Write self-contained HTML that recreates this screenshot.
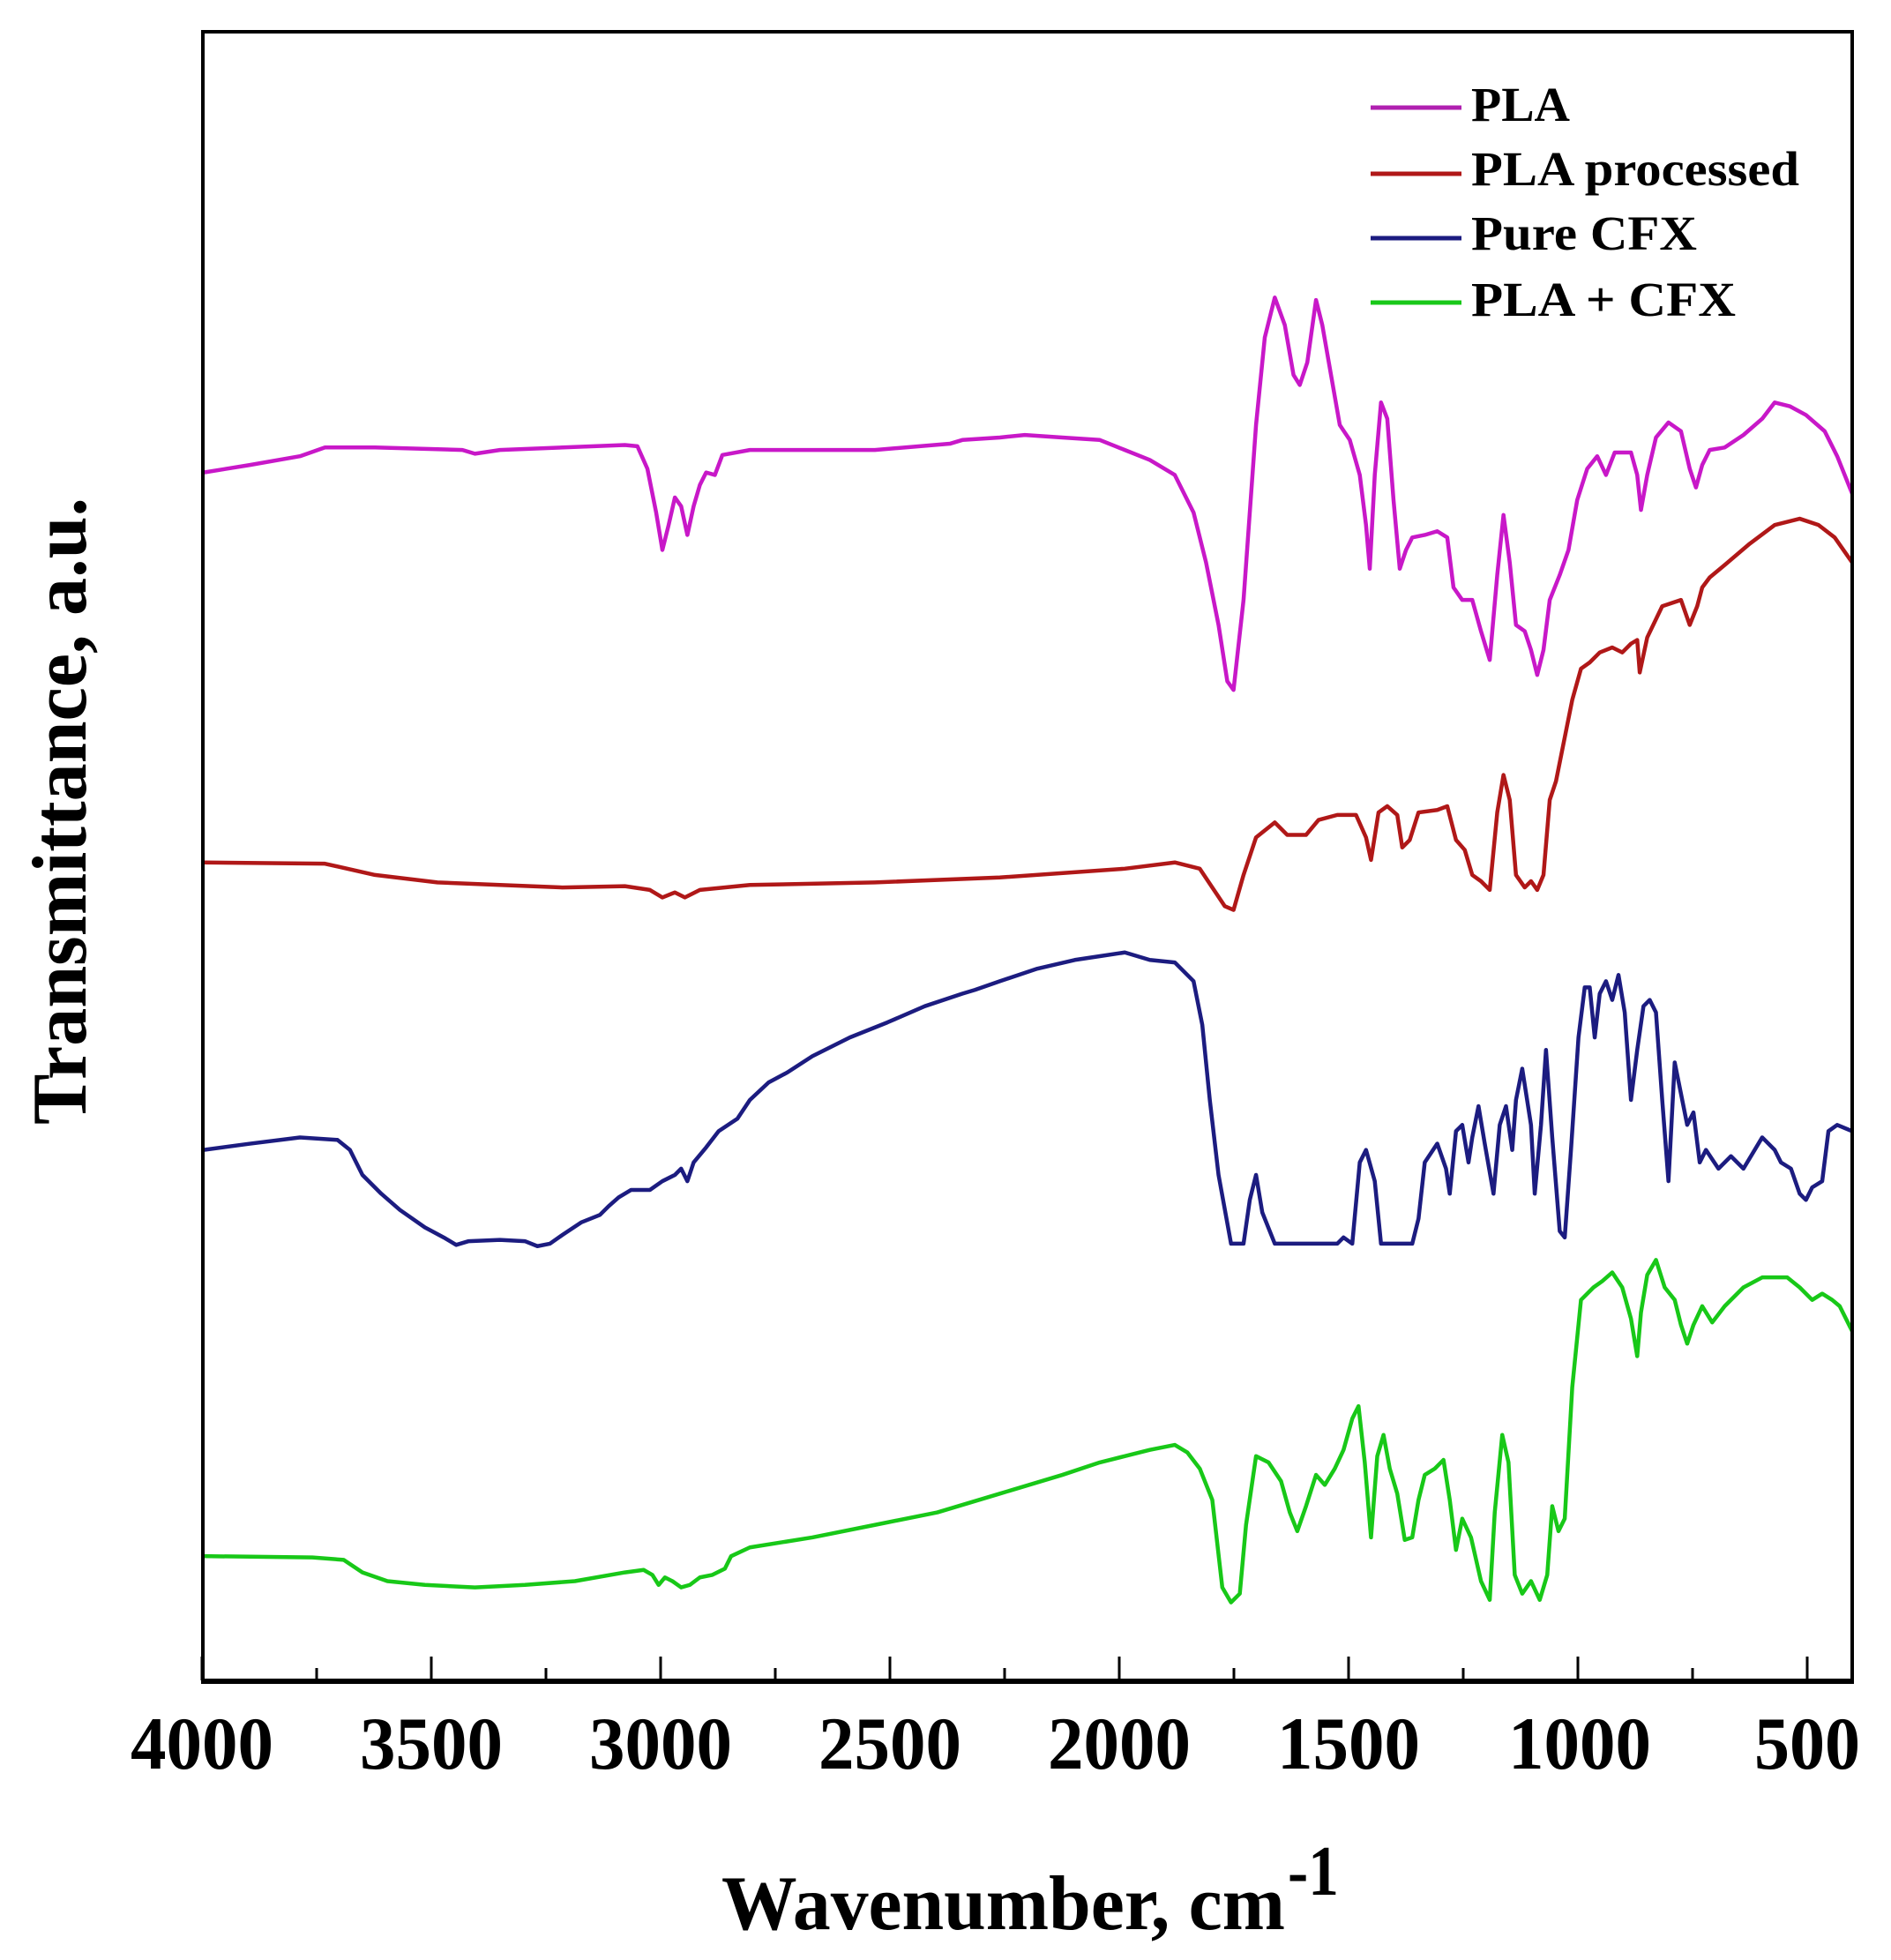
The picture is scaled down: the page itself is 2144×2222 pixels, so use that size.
<!DOCTYPE html>
<html><head><meta charset="utf-8"><style>html,body{margin:0;padding:0;background:#fff}svg{display:block}</style></head>
<body>
<svg width="2144" height="2222" viewBox="0 0 2144 2222" xmlns="http://www.w3.org/2000/svg" font-family="'Liberation Serif', serif" font-weight="bold">
<rect x="0" y="0" width="2144" height="2222" fill="#fff"/>
<g transform="scale(1.417)" fill="none" stroke-width="4.5" stroke-linejoin="round">
<path vector-effect="non-scaling-stroke" stroke="#c818c8" d="M163,378 200,372 240,365 260,358 300,358 370,360 380,363 400,360 500,356 510,357 518,375 525,410 530,440 535,420 540,398 545,405 550,428 555,405 560,388 565,378 572,380 578,364 600,360 700,360 760,355 770,352 800,350 820,348 850,350 880,352 900,360 920,368 940,380 955,410 965,450 975,500 982,545 987,552 995,480 1005,340 1012,270 1020,238 1028,260 1035,300 1040,308 1046,290 1053,240 1058,260 1065,300 1072,340 1080,352 1088,380 1093,420 1096,455 1100,380 1105,322 1110,335 1115,400 1120,455 1125,440 1130,430 1140,428 1150,425 1158,430 1163,470 1170,480 1178,480 1185,505 1192,528 1198,460 1203,412 1208,450 1213,500 1220,505 1225,520 1230,540 1235,520 1240,480 1248,460 1255,440 1262,400 1270,375 1278,365 1285,380 1292,362 1305,362 1310,380 1313,408 1318,380 1325,350 1335,338 1345,345 1352,375 1357,390 1362,372 1368,360 1380,358 1395,348 1410,335 1420,322 1432,325 1445,332 1460,345 1470,365 1482,395"/>
<path vector-effect="non-scaling-stroke" stroke="#b01818" d="M163,690 260,691 300,700 350,706 400,708 450,710 500,709 520,712 530,718 540,714 548,718 560,712 600,708 700,706 800,702 900,695 940,690 960,695 970,710 980,725 987,728 995,700 1005,670 1020,658 1030,668 1045,668 1055,656 1070,652 1085,652 1093,670 1097,688 1103,650 1110,645 1118,652 1122,678 1128,672 1135,650 1150,648 1158,645 1165,672 1172,680 1178,700 1185,705 1192,712 1198,650 1203,620 1208,640 1213,700 1220,710 1225,705 1230,712 1235,700 1240,640 1245,625 1250,600 1258,560 1265,535 1272,530 1280,522 1290,518 1298,522 1305,515 1310,512 1312,538 1318,510 1330,485 1345,480 1352,500 1358,485 1362,470 1368,462 1380,452 1400,435 1420,420 1440,415 1455,420 1468,430 1482,450"/>
<path vector-effect="non-scaling-stroke" stroke="#1c1c80" d="M163,920 200,915 240,910 270,912 280,920 290,940 305,955 320,968 340,982 355,990 365,996 375,993 400,992 420,993 430,997 440,995 450,988 465,978 480,972 487,965 495,958 505,952 520,952 530,945 540,940 545,935 550,945 555,930 565,918 575,905 590,895 600,880 615,866 630,858 650,845 680,830 710,818 740,805 770,795 780,792 800,785 830,775 860,768 880,765 900,762 920,768 940,770 955,785 962,820 968,880 975,940 985,995 995,995 1000,960 1005,940 1010,970 1020,995 1070,995 1075,990 1082,995 1088,930 1093,920 1100,945 1105,995 1130,995 1135,975 1140,930 1150,915 1157,935 1160,955 1165,905 1170,900 1175,930 1178,910 1183,885 1188,915 1195,955 1200,900 1205,885 1210,920 1213,880 1218,855 1225,900 1228,955 1233,900 1237,840 1242,910 1248,985 1252,990 1257,920 1263,830 1268,790 1272,790 1276,830 1280,795 1285,785 1290,800 1295,780 1300,810 1305,880 1310,840 1315,805 1320,800 1325,810 1330,880 1335,945 1340,850 1345,875 1350,900 1355,890 1360,930 1365,920 1375,935 1385,925 1395,935 1410,910 1420,920 1425,930 1433,935 1440,955 1445,960 1450,950 1458,945 1463,905 1470,900 1482,905"/>
<path vector-effect="non-scaling-stroke" stroke="#18c818" d="M163,1245 250,1246 275,1248 290,1258 310,1265 340,1268 380,1270 420,1268 460,1265 500,1258 515,1256 522,1260 527,1268 532,1262 538,1265 545,1270 552,1268 560,1262 570,1260 580,1255 585,1245 600,1238 650,1230 700,1220 750,1210 800,1195 850,1180 880,1170 900,1165 920,1160 940,1156 950,1162 960,1175 970,1200 978,1270 985,1282 992,1275 997,1220 1005,1165 1015,1170 1025,1185 1032,1210 1038,1225 1045,1205 1053,1180 1060,1188 1068,1175 1075,1160 1082,1135 1087,1125 1092,1170 1097,1230 1102,1165 1107,1148 1112,1175 1118,1195 1124,1232 1130,1230 1135,1200 1140,1180 1148,1175 1155,1168 1160,1200 1165,1240 1170,1215 1177,1230 1185,1265 1192,1280 1196,1210 1202,1148 1207,1170 1212,1260 1218,1275 1225,1265 1232,1280 1238,1260 1242,1205 1247,1225 1252,1215 1258,1110 1265,1040 1275,1030 1282,1025 1290,1018 1298,1030 1305,1055 1310,1085 1313,1050 1318,1020 1325,1008 1332,1030 1340,1040 1345,1060 1350,1075 1355,1060 1362,1045 1370,1058 1380,1045 1395,1030 1410,1022 1430,1022 1440,1030 1450,1040 1458,1035 1466,1040 1472,1045 1482,1065"/>
</g>
<rect x="230" y="36" width="1870" height="1869" fill="none" stroke="#000" stroke-width="4"/>
<line x1="228" y1="1906" x2="2102" y2="1906" stroke="#000" stroke-width="6"/>
<g stroke="#000" stroke-width="3">
<line x1="229" y1="1905" x2="229" y2="1878"/><line x1="359" y1="1905" x2="359" y2="1891"/>
<line x1="489" y1="1905" x2="489" y2="1878"/><line x1="619" y1="1905" x2="619" y2="1891"/>
<line x1="749" y1="1905" x2="749" y2="1878"/><line x1="879" y1="1905" x2="879" y2="1891"/>
<line x1="1009" y1="1905" x2="1009" y2="1878"/><line x1="1139" y1="1905" x2="1139" y2="1891"/>
<line x1="1269" y1="1905" x2="1269" y2="1878"/><line x1="1399" y1="1905" x2="1399" y2="1891"/>
<line x1="1529" y1="1905" x2="1529" y2="1878"/><line x1="1659" y1="1905" x2="1659" y2="1891"/>
<line x1="1789" y1="1905" x2="1789" y2="1878"/><line x1="1919" y1="1905" x2="1919" y2="1891"/>
<line x1="2049" y1="1905" x2="2049" y2="1878"/>
</g>
<g font-size="85" text-anchor="middle" fill="#000">
<text x="229" y="2005" textLength="162" lengthAdjust="spacingAndGlyphs">4000</text>
<text x="489" y="2005" textLength="162" lengthAdjust="spacingAndGlyphs">3500</text>
<text x="749" y="2005" textLength="162" lengthAdjust="spacingAndGlyphs">3000</text>
<text x="1009" y="2005" textLength="162" lengthAdjust="spacingAndGlyphs">2500</text>
<text x="1269" y="2005" textLength="162" lengthAdjust="spacingAndGlyphs">2000</text>
<text x="1529" y="2005" textLength="162" lengthAdjust="spacingAndGlyphs">1500</text>
<text x="1791" y="2005" textLength="162" lengthAdjust="spacingAndGlyphs">1000</text>
<text x="2049" y="2005" textLength="120" lengthAdjust="spacingAndGlyphs">500</text>
</g>
<text x="818" y="2187" font-size="88" textLength="639" lengthAdjust="spacingAndGlyphs">Wavenumber, cm</text>
<text x="1460" y="2148" font-size="80" textLength="58" lengthAdjust="spacingAndGlyphs">-1</text>
<text transform="translate(97,1275) rotate(-90)" font-size="88" textLength="711" lengthAdjust="spacingAndGlyphs">Transmittance, a.u.</text>
<g stroke-width="5">
<line x1="1554" y1="122" x2="1657" y2="122" stroke="#b020b0"/>
<line x1="1554" y1="197" x2="1657" y2="197" stroke="#b01818"/>
<line x1="1554" y1="270" x2="1657" y2="270" stroke="#1c1c80"/>
<line x1="1554" y1="343" x2="1657" y2="343" stroke="#18c818"/>
</g>
<g font-size="55" fill="#000">
<text x="1668" y="137" textLength="112" lengthAdjust="spacingAndGlyphs">PLA</text>
<text x="1668" y="210" textLength="372" lengthAdjust="spacingAndGlyphs">PLA processed</text>
<text x="1668" y="283" textLength="256" lengthAdjust="spacingAndGlyphs">Pure CFX</text>
<text x="1668" y="358" textLength="300" lengthAdjust="spacingAndGlyphs">PLA + CFX</text>
</g>
</svg>
</body></html>
